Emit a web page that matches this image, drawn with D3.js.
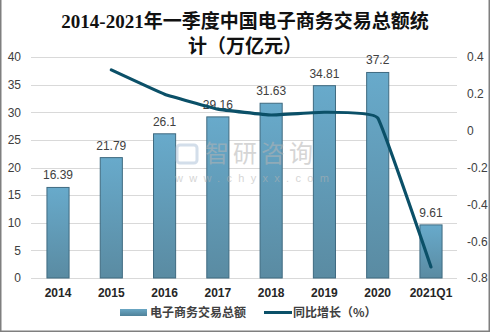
<!DOCTYPE html>
<html><head><meta charset="utf-8">
<script src="https://cdn.jsdelivr.net/npm/d3@7"></script>
<style>
html,body{margin:0;padding:0;background:#fff;}
svg{display:block;}
</style></head>
<body>
<svg id="c" width="490" height="332"></svg>
<script>
const categories = ["2014","2015","2016","2017","2018","2019","2020","2021Q1"];
const totals = [16.39,21.79,26.1,29.16,31.63,34.81,37.2,9.61];
const growth = [null,0.33,0.198,0.117,0.085,0.10,0.069,-0.74];
const leftTicks = [0,5,10,15,20,25,30,35,40];
const rightTicks = [-0.8,-0.6,-0.4,-0.2,0,0.2,0.4];
const titleLines = ["2014-2021年一季度中国电子商务交易总额统","计（万亿元）"];
const legendLabels = ["电子商务交易总额","同比增长（%）"];

const svg = d3.select("#c");
const W=490,H=332;
const m={l:31,r:33,t:57,b:54};
const x = d3.scaleBand().domain(categories).range([m.l, W-m.r]).paddingInner(0.585).paddingOuter(0.29);
const y = d3.scaleLinear().domain([0,40]).range([H-m.b, m.t]);
const y2 = d3.scaleLinear().domain([-0.8,0.4]).range([H-m.b, m.t]);

const defs = svg.append("defs");
const g = defs.append("linearGradient").attr("id","bg").attr("x1",0).attr("y1",0).attr("x2",0).attr("y2",1);
g.append("stop").attr("offset","0%").attr("stop-color","#68aacb");
g.append("stop").attr("offset","100%").attr("stop-color","#5a8ba2");
const gl = defs.append("linearGradient").attr("id","lg").attr("x1",0).attr("y1",0).attr("x2",0).attr("y2",1);
gl.append("stop").attr("offset","0%").attr("stop-color","#6aa7c4");
gl.append("stop").attr("offset","100%").attr("stop-color","#4f8199");

// frame
svg.append("rect").attr("x",0.75).attr("y",-2).attr("width",W-1.5).attr("height",H+1.25)
  .attr("fill","none").attr("stroke","#7f7f7f").attr("stroke-width",1.5);

// title
svg.append("g").selectAll("text").data(titleLines).join("text")
  .attr("x",W/2).attr("y",(d,i)=>28+i*25)
  .attr("text-anchor","middle")
  .attr("font-family","'Liberation Serif','Noto Sans CJK SC',serif")
  .attr("font-weight","bold").attr("font-size",19).attr("fill","#111")
  .text(d=>d);

// grid
svg.append("g").selectAll("line").data(leftTicks).join("line")
  .attr("x1",m.l).attr("x2",W-m.r)
  .attr("y1",d=>Math.round(y(d))+0.5).attr("y2",d=>Math.round(y(d))+0.5)
  .attr("stroke","#d9d9d9").attr("stroke-width",1);

// left axis
const la = svg.append("g").attr("transform",`translate(21,0)`)
  .call(d3.axisLeft(y).tickValues(leftTicks).tickSize(0).tickPadding(0).tickFormat(d3.format("d")));
la.select(".domain").remove();
la.selectAll("text").attr("font-family","'Liberation Sans',Arial,sans-serif").attr("font-size",12).attr("fill","#404040");

// right axis
const ra = svg.append("g").attr("transform",`translate(467,0)`)
  .call(d3.axisRight(y2).tickValues(rightTicks).tickSize(0).tickPadding(0).tickFormat(d=>d===0?"0":String(d)));
ra.select(".domain").remove();
ra.selectAll("text").attr("font-family","'Liberation Sans',Arial,sans-serif").attr("font-size",12).attr("fill","#404040");

// bars
svg.append("g").selectAll("rect").data(totals).join("rect")
  .attr("x",(d,i)=>x(categories[i])+0.5).attr("width",x.bandwidth())
  .attr("y",d=>y(d)).attr("height",d=>y(0)-y(d))
  .attr("fill","url(#bg)").attr("stroke","#3f6a80").attr("stroke-width",1);

// watermark (over bars)
const wm = svg.append("g").attr("opacity",0.55);
wm.append("text").attr("x",205).attr("y",162).attr("font-family","'Noto Sans CJK SC',sans-serif")
  .attr("font-size",24).attr("fill","#b4b4b4").attr("letter-spacing",4).text("智研咨询");
wm.append("text").attr("x",175).attr("y",182).attr("font-family","'Liberation Sans',sans-serif")
  .attr("font-size",11).attr("fill","#b4b4b4").attr("letter-spacing",6.3).text("www.chyxx.com");
wm.append("rect").attr("x",177).attr("y",145).attr("width",20).attr("height",18).attr("rx",3)
  .attr("fill","none").attr("stroke","#b0c4da").attr("stroke-width",3);

// bar labels
svg.append("g").selectAll("text").data(totals).join("text")
  .attr("x",(d,i)=>x(categories[i])+x.bandwidth()/2+0.5).attr("y",d=>y(d)-8)
  .attr("text-anchor","middle").attr("font-family","'Liberation Sans',Arial,sans-serif")
  .attr("font-size",12).attr("fill","#404040").text(d=>d);

// line
const pts = growth.map((v,i)=>({v,i})).filter(d=>d.v!==null);
const line = d3.line().x(d=>x(categories[d.i])+x.bandwidth()/2+0.5).y(d=>y2(d.v)).curve(d3.curveCardinal.tension(0.75));
svg.append("path").datum(pts).attr("d",line).attr("fill","none")
  .attr("stroke","#0b5068").attr("stroke-width",3.2).attr("stroke-linejoin","round").attr("stroke-linecap","round");

// x labels
svg.append("g").selectAll("text").data(categories).join("text")
  .attr("x",d=>x(d)+x.bandwidth()/2+0.5).attr("y",H-m.b+19)
  .attr("text-anchor","middle").attr("font-family","'Liberation Sans',Arial,sans-serif")
  .attr("font-weight","bold").attr("font-size",12).attr("fill","#262626").text(d=>d);

// legend
const lg = svg.append("g");
lg.append("rect").attr("x",120).attr("y",309).attr("width",27).attr("height",7).attr("fill","url(#lg)");
lg.append("text").attr("x",150).attr("y",317).attr("font-family","'Noto Sans CJK SC',sans-serif")
  .attr("font-size",12).attr("font-weight","bold").attr("fill","#404040").text(legendLabels[0]);
lg.append("line").attr("x1",264).attr("x2",292).attr("y1",312.5).attr("y2",312.5).attr("stroke","#0b5068").attr("stroke-width",3);
lg.append("text").attr("x",293).attr("y",317).attr("font-family","'Noto Sans CJK SC',sans-serif")
  .attr("font-size",12).attr("font-weight","bold").attr("fill","#404040").text(legendLabels[1]);
</script>
</body></html>
